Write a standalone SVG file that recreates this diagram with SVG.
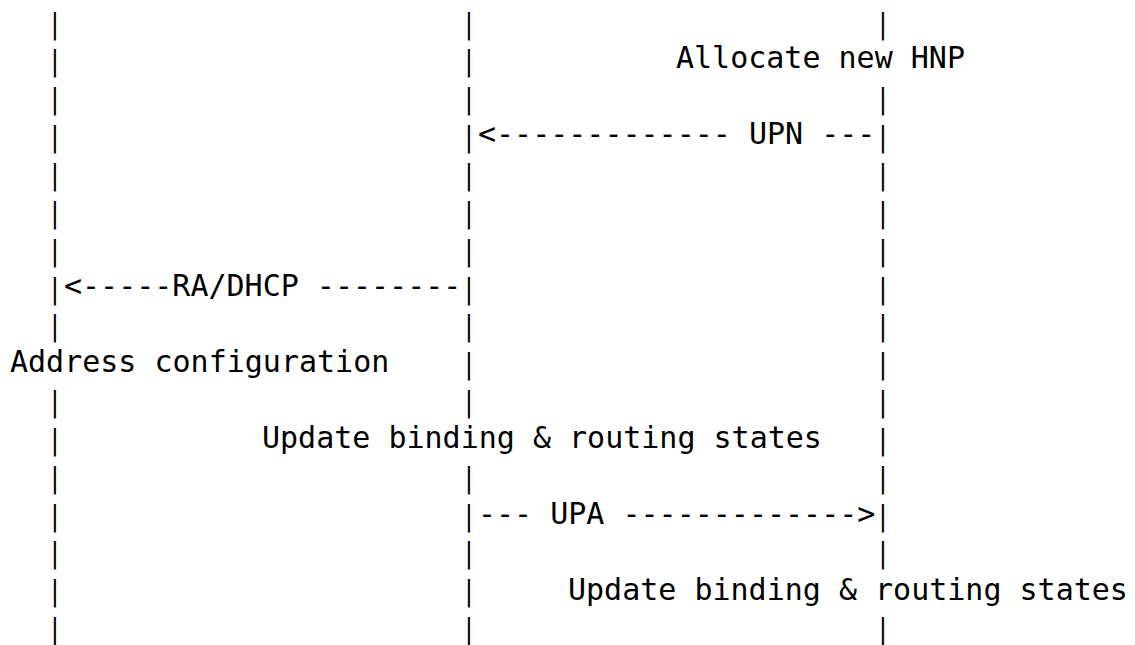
<svg xmlns="http://www.w3.org/2000/svg" width="1135" height="645" viewBox="0 0 1135 645">
<style>
.t{font-family:"DejaVu Sans Mono","Liberation Mono",monospace;font-size:30px;fill:#000;white-space:pre}
.b{font-family:"DejaVu Sans Mono","Liberation Mono",monospace;font-size:28px;fill:#000;text-anchor:middle}
</style>
<rect width="1135" height="645" fill="#fff"/>
<g id="lifeline-mn" transform="translate(55,0) scale(0.85,1)">
<text class="b" x="0" y="33.6">|</text>
<text class="b" x="0" y="71.45">|</text>
<text class="b" x="0" y="109.3">|</text>
<text class="b" x="0" y="147.15">|</text>
<text class="b" x="0" y="185">|</text>
<text class="b" x="0" y="222.85">|</text>
<text class="b" x="0" y="260.7">|</text>
<text class="b" x="0" y="298.55">|</text>
<text class="b" x="0" y="336.4">|</text>
<text class="b" x="0" y="412.1">|</text>
<text class="b" x="0" y="449.95">|</text>
<text class="b" x="0" y="487.8">|</text>
<text class="b" x="0" y="525.65">|</text>
<text class="b" x="0" y="563.5">|</text>
<text class="b" x="0" y="601.35">|</text>
<text class="b" x="0" y="639.2">|</text>
</g>
<g id="lifeline-mag" transform="translate(469,0) scale(0.85,1)">
<text class="b" x="0" y="33.6">|</text>
<text class="b" x="0" y="71.45">|</text>
<text class="b" x="0" y="109.3">|</text>
<text class="b" x="0" y="147.15">|</text>
<text class="b" x="0" y="185">|</text>
<text class="b" x="0" y="222.85">|</text>
<text class="b" x="0" y="260.7">|</text>
<text class="b" x="0" y="298.55">|</text>
<text class="b" x="0" y="336.4">|</text>
<text class="b" x="0" y="374.25">|</text>
<text class="b" x="0" y="412.1">|</text>
<text class="b" x="0" y="487.8">|</text>
<text class="b" x="0" y="525.65">|</text>
<text class="b" x="0" y="563.5">|</text>
<text class="b" x="0" y="601.35">|</text>
<text class="b" x="0" y="639.2">|</text>
</g>
<g id="lifeline-lma" transform="translate(883,0) scale(0.85,1)">
<text class="b" x="0" y="33.6">|</text>
<text class="b" x="0" y="109.3">|</text>
<text class="b" x="0" y="147.15">|</text>
<text class="b" x="0" y="185">|</text>
<text class="b" x="0" y="222.85">|</text>
<text class="b" x="0" y="260.7">|</text>
<text class="b" x="0" y="298.55">|</text>
<text class="b" x="0" y="336.4">|</text>
<text class="b" x="0" y="374.25">|</text>
<text class="b" x="0" y="412.1">|</text>
<text class="b" x="0" y="449.95">|</text>
<text class="b" x="0" y="487.8">|</text>
<text class="b" x="0" y="525.65">|</text>
<text class="b" x="0" y="563.5">|</text>
<text class="b" x="0" y="639.2">|</text>
</g>
<g id="notes">
<text id="note-allocate" class="t" x="676" y="68">Allocate new HNP</text>
<text id="note-address" class="t" x="10" y="372">Address configuration</text>
<text id="note-update-mag" class="t" x="262" y="448">Update binding &amp; routing states</text>
<text id="note-update-lma" class="t" x="568" y="600">Update binding &amp; routing states</text>
</g>
<g id="connectors">
<text id="msg-upn" class="t" x="478" y="144">&lt;------------- UPN ---</text>
<text id="msg-ra" class="t" x="64" y="296">&lt;-----RA/DHCP --------</text>
<text id="msg-upa" class="t" x="478" y="524">--- UPA -------------&gt;</text>
</g>
</svg>
